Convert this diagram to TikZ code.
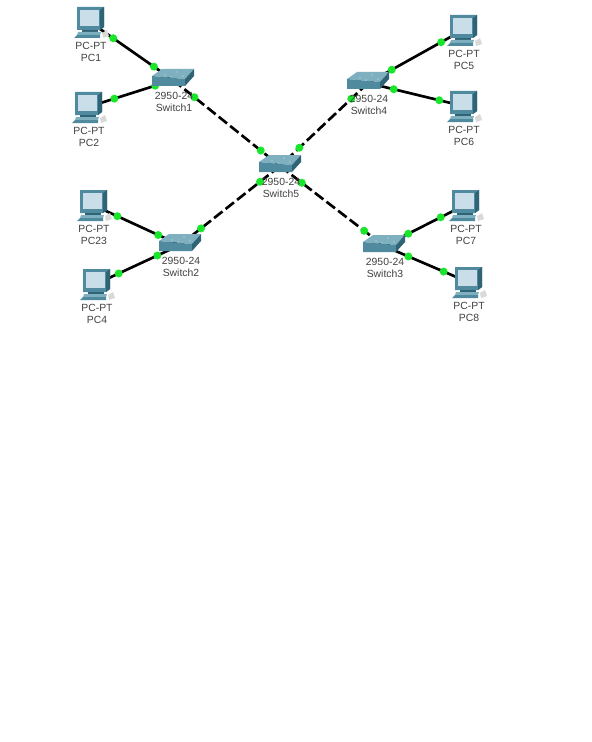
\documentclass[tikz,border=0pt]{standalone}
\usepackage{fontspec}
\setmainfont{Liberation Sans}
\usepackage{xcolor}
\usetikzlibrary{positioning, backgrounds}

\definecolor{caseteal}{HTML}{4F8A9E}
\definecolor{casedark}{HTML}{2F6476}
\definecolor{caselight}{HTML}{7FB0C0}
\definecolor{screenblue}{HTML}{C9DEE8}
\definecolor{portgreen}{HTML}{19E62B}
\definecolor{labelgray}{HTML}{404040}

\begin{document}
\begin{tikzpicture}[
    x=0.75pt, y=-0.75pt,
    pc/.style={inner sep=0pt, minimum width=25.5pt, minimum height=27pt, label={[pclabel]below:PC-PT\\#1}},
    switch/.style={inner sep=0pt, minimum width=31.5pt, minimum height=15pt, label={[pclabel]below:2950-24\\#1}},
    pclabel/.style={align=center, font=\fontsize{7.8}{9}\selectfont, text=labelgray, inner sep=0pt, yshift=-1pt, xshift=0.75pt},
    link/.style={line width=2pt, black},
    trunk/.style={line width=2pt, black, dash pattern=on 8pt off 3pt},
    port/.style={circle, fill=portgreen, inner sep=0pt, minimum size=6pt},
    pcicon/.pic={
        \fill[caseteal] (-13,-15) -- (14,-15) -- (14,5) -- (10,8) -- (-13,8) -- cycle;
        \fill[casedark] (10,-12) -- (14,-15) -- (14,5) -- (10,8) -- cycle;
        \fill[screenblue] (-10,-12) rectangle (9,4);
        \fill[casedark] (-8,8) rectangle (8,10);
        \fill[caselight] (-12,10) -- (11,10) -- (10,13) -- (-13,13) -- cycle;
        \fill[caseteal] (-16,16) -- (-13,13) -- (10,13) -- (10,16) -- cycle;
        \fill[gray!30] (12,11) -- (17,8) -- (19,14) -- (13,16) -- cycle;
    },
    switchicon/.pic={
        \fill[caselight] (-21,-4) -- (-11,-11) -- (21,-11) -- (12,-1) -- cycle;
        \fill[caseteal] (-21,-4) -- (12,-1) -- (12,6) -- (-21,6) -- cycle;
        \fill[casedark] (12,-1) -- (21,-11) -- (21,-4) -- (12,6) -- cycle;
        \fill[white!70!caselight] (-8,-5) circle (0.7) (4,-8) circle (0.7) (-2,-3) circle (0.7) (10,-4) circle (0.7);
    },
]

\useasboundingbox (0,0) rectangle (592,742);

% Nodes
\node[pc=PC1] (pc1) at (90,22) {};
\node[pc=PC2] (pc2) at (88,107) {};
\node[pc=PC23] (pc23) at (93,205) {};
\node[pc=PC4] (pc4) at (96,284) {};
\node[pc=PC5] (pc5) at (463,30) {};
\node[pc=PC6] (pc6) at (463,106) {};
\node[pc=PC7] (pc7) at (465,205) {};
\node[pc=PC8] (pc8) at (468,282) {};
\node[switch=Switch1] (sw1) at (173,80) {};
\node[switch=Switch2] (sw2) at (180,245) {};
\node[switch=Switch3] (sw3) at (384,246) {};
\node[switch=Switch4] (sw4) at (368,83) {};
\node[switch=Switch5] (sw5) at (280,166) {};

% Icons
\foreach \n in {pc1,pc2,pc23,pc4,pc5,pc6,pc7,pc8} {\pic at (\n) {pcicon};}
\foreach \n in {sw1,sw2,sw3,sw4,sw5} {\pic at (\n) {switchicon};}

\begin{scope}[on background layer]
% Links to the PCs
\draw[link] (pc1.center) -- node[port, pos=.28] (p1a) {} node[port, pos=.77] (p1b) {} (sw1.center);
\draw[link] (pc2.center) -- node[port, pos=.31] (p2a) {} node[port, pos=.79] (p2b) {} (sw1.center);
\draw[link] (pc23.center) -- node[port, pos=.28] (p3a) {} node[port, pos=.75] (p3b) {} (sw2.center);
\draw[link] (pc4.center) -- node[port, pos=.27] (p4a) {} node[port, pos=.73] (p4b) {} (sw2.center);
\draw[link] (sw4.center) -- node[port, pos=.25] (p5a) {} node[port, pos=.77] (p5b) {} (pc5.center);
\draw[link] (sw4.center) -- node[port, pos=.27] (p6a) {} node[port, pos=.75] (p6b) {} (pc6.center);
\draw[link] (sw3.center) -- node[port, pos=.30] (p7a) {} node[port, pos=.70] (p7b) {} (pc7.center);
\draw[link] (sw3.center) -- node[port, pos=.29] (p8a) {} node[port, pos=.71] (p8b) {} (pc8.center);

% Links between the switches
\draw[trunk] (sw1.center) -- node[port, pos=.20] (t1a) {} node[port, pos=.82] (t1b) {} (sw5.center);
\draw[trunk] (sw4.center) -- node[port, pos=.19] (t2a) {} node[port, pos=.78] (t2b) {} (sw5.center);
\draw[trunk] (sw5.center) -- node[port, pos=.20] (t3a) {} node[port, pos=.79] (t3b) {} (sw2.center);
\draw[trunk] (sw5.center) -- node[port, pos=.21] (t4a) {} node[port, pos=.81] (t4b) {} (sw3.center);
\end{scope}

\end{tikzpicture}
\end{document}
